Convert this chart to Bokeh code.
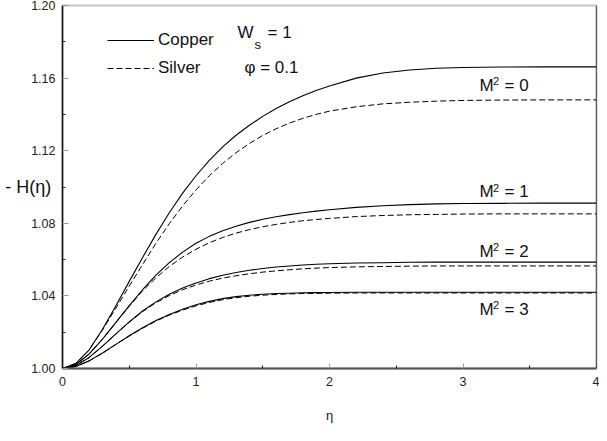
from bokeh.plotting import figure
from bokeh.models import (Range1d, FixedTicker, NumeralTickFormatter, Label,
                          Legend, LegendItem, Span)
from bokeh.embed import file_html
from bokeh.resources import INLINE

# ---- data ----
eta = [0, 0.1, 0.2, 0.3, 0.4, 0.5, 0.6, 0.7, 0.8, 0.9, 1.0, 1.1, 1.2, 1.3, 1.4,
       1.5, 1.6, 1.7, 1.8, 1.9, 2.0, 2.2, 2.4, 2.6, 2.8, 3.0, 3.3, 3.6, 4.0]

copper_m0 = [1.0000, 1.0028, 1.0103, 1.0216, 1.0346, 1.0480, 1.0612, 1.0739, 1.0858, 1.0966,
             1.1062, 1.1147, 1.1221, 1.1285, 1.1340, 1.1389, 1.1432, 1.1470, 1.1503, 1.1532,
             1.1557, 1.1600, 1.1628, 1.1645, 1.1654, 1.1658, 1.1661, 1.1662, 1.1662]
silver_m0 = [1.0000, 1.0028, 1.0103, 1.0213, 1.0333, 1.0454, 1.0573, 1.0690, 1.0798, 1.0896,
             1.0984, 1.1062, 1.1130, 1.1189, 1.1240, 1.1284, 1.1321, 1.1352, 1.1378, 1.1400,
             1.1418, 1.1442, 1.1458, 1.1467, 1.1473, 1.1477, 1.1479, 1.1480, 1.1480]
copper_m1 = [1.0000, 1.0022, 1.0080, 1.0162, 1.0254, 1.0346, 1.0434, 1.0514, 1.0583, 1.0641,
             1.0690, 1.0728, 1.0759, 1.0784, 1.0805, 1.0822, 1.0836, 1.0848, 1.0858, 1.0867,
             1.0875, 1.0888, 1.0897, 1.0903, 1.0907, 1.0909, 1.0910, 1.0911, 1.0911]
silver_m1 = [1.0000, 1.0022, 1.0080, 1.0162, 1.0253, 1.0343, 1.0428, 1.0500, 1.0562, 1.0614,
             1.0657, 1.0693, 1.0722, 1.0746, 1.0765, 1.0781, 1.0794, 1.0805, 1.0814, 1.0821,
             1.0827, 1.0837, 1.0843, 1.0847, 1.0849, 1.0851, 1.0852, 1.0852, 1.0852]
copper_m2 = [1.0000, 1.0016, 1.0061, 1.0123, 1.0191, 1.0257, 1.0317, 1.0367, 1.0409, 1.0443,
             1.0471, 1.0495, 1.0514, 1.0529, 1.0541, 1.0551, 1.0559, 1.0565, 1.0570, 1.0574,
             1.0577, 1.0581, 1.0583, 1.0585, 1.0586, 1.0586, 1.0586, 1.0586, 1.0586]
silver_m2 = [1.0000, 1.0016, 1.0061, 1.0123, 1.0190, 1.0255, 1.0314, 1.0362, 1.0402, 1.0434,
             1.0460, 1.0481, 1.0498, 1.0511, 1.0522, 1.0531, 1.0538, 1.0544, 1.0549, 1.0553,
             1.0556, 1.0560, 1.0562, 1.0564, 1.0565, 1.0565, 1.0565, 1.0565, 1.0565]
copper_m3 = [1.0000, 1.0011, 1.0042, 1.0085, 1.0133, 1.0180, 1.0224, 1.0264, 1.0298, 1.0327,
             1.0351, 1.0370, 1.0385, 1.0396, 1.0404, 1.0409, 1.0413, 1.0415, 1.0417, 1.0418,
             1.0419, 1.0420, 1.0420, 1.0420, 1.0420, 1.0420, 1.0420, 1.0420, 1.0420]
silver_m3 = [1.0000, 1.0011, 1.0042, 1.0085, 1.0133, 1.0179, 1.0222, 1.0261, 1.0294, 1.0322,
             1.0345, 1.0364, 1.0379, 1.0390, 1.0398, 1.0404, 1.0408, 1.0411, 1.0413, 1.0414,
             1.0415, 1.0416, 1.0416, 1.0416, 1.0416, 1.0416, 1.0416, 1.0416, 1.0416]

m_values = ["0", "1", "2", "3"]
x_ticks = [0, 1, 2, 3, 4]
x_minor = [0.5, 1.5, 2.5, 3.5]
y_ticks = [1.00, 1.04, 1.08, 1.12, 1.16, 1.20]
y_minor = [1.02, 1.06, 1.10, 1.14, 1.18]

FONT = "Liberation Sans"

p = figure(width=599, height=425, output_backend="svg", toolbar_location=None,
           x_range=Range1d(0, 4), y_range=Range1d(1.0, 1.2),
           min_border_left=62, min_border_right=3, min_border_top=5,
           min_border_bottom=54)
p.xgrid.visible = False
p.ygrid.visible = False
p.outline_line_color = "#c4c4c4"
p.outline_line_width = 2
p.background_fill_color = "white"
p.border_fill_color = "white"

# x axis
xa = p.xaxis[0]
xa.ticker = FixedTicker(ticks=x_ticks, minor_ticks=x_minor)
xa.formatter = NumeralTickFormatter(format="0")
xa.axis_line_color = "#555555"
xa.axis_line_width = 2
xa.major_tick_in = 5
xa.major_tick_out = 0
xa.major_tick_line_color = "#9a9a9a"
xa.minor_tick_in = 3
xa.minor_tick_out = 0
xa.minor_tick_line_color = "#222222"
xa.major_label_text_font = FONT
xa.major_label_text_font_size = "12.5px"
xa.major_label_text_color = "#222222"
xa.major_label_standoff = 8
xa.axis_label = "η"
xa.axis_label_text_font = FONT
xa.axis_label_text_font_size = "13px"
xa.axis_label_text_font_style = "normal"
xa.axis_label_text_color = "#222222"
xa.axis_label_standoff = 19

# y axis
ya = p.yaxis[0]
ya.ticker = FixedTicker(ticks=y_ticks, minor_ticks=y_minor)
ya.formatter = NumeralTickFormatter(format="0.00")
ya.axis_line_color = "#111111"
ya.axis_line_width = 1.5
ya.major_tick_in = 6
ya.major_tick_out = 0
ya.major_tick_line_color = "#9a9a9a"
ya.minor_tick_in = 3
ya.minor_tick_out = 0
ya.minor_tick_line_color = "#222222"
ya.major_label_text_font = FONT
ya.major_label_text_font_size = "12.5px"
ya.major_label_text_color = "#222222"
ya.major_label_standoff = 7

y_title_done = False
if "axis_label_orientation" in ya.properties():
    try:
        ya.axis_label = "- H(η)"
        ya.axis_label_orientation = "horizontal"
        ya.axis_label_standoff = -23
        ya.axis_label_text_font = FONT
        ya.axis_label_text_font_size = "18px"
        ya.axis_label_text_font_style = "normal"
        ya.axis_label_text_color = "#111111"
        y_title_done = True
    except Exception:
        ya.axis_label = None

# right border
p.add_layout(Span(location=4, dimension="height", line_color="black", line_width=1.2))

copper = [copper_m0, copper_m1, copper_m2, copper_m3]
silver = [silver_m0, silver_m1, silver_m2, silver_m3]
rc, rs = [], []
for c, s in zip(copper, silver):
    rc.append(p.line(eta, c, line_color="black", line_width=1.1))
    rs.append(p.line(eta, s, line_color="black", line_width=1.0, line_dash="6 3"))

legend = Legend(items=[LegendItem(label="Copper", renderers=[rc[0]]),
                       LegendItem(label="Silver", renderers=[rs[0]])],
                location=(45, 290), orientation="vertical",
                glyph_width=47, glyph_height=20, label_height=20, spacing=8,
                label_standoff=4, padding=0, margin=0,
                border_line_color=None, background_fill_alpha=0,
                label_text_font=FONT, label_text_font_size="17px",
                label_text_color="#111111")
p.add_layout(legend)

def add_text(x, y, text, size="17px", xo=0, yo=0, align="left"):
    p.add_layout(Label(x=x, y=y, x_offset=xo, y_offset=yo, text=text,
                       text_font=FONT, text_font_size=size,
                       text_baseline="middle", text_align=align,
                       text_color="#111111"))

# W_s = 1 and phi = 0.1
add_text(1.311, 1.1852, "W")
add_text(1.311, 1.1852, "s", size="13px", xo=17, yo=-12)
add_text(1.311, 1.1852, "= 1", xo=30)
add_text(1.363, 1.1656, "φ = 0.1")

# M^2 labels
m_label_y = [1.1561, 1.0974, 1.0645, 1.0326]
for mv, yy in zip(m_values, m_label_y):
    add_text(3.124, yy, "M")
    add_text(3.124, yy, "2", size="11px", xo=13.5, yo=4)
    add_text(3.124, yy, "= " + mv, xo=25)

if not y_title_done:
    add_text(-0.25, 1.1005, "- H(η)", size="18px", align="center")

open("out.html", "w").write(file_html(p, INLINE))
